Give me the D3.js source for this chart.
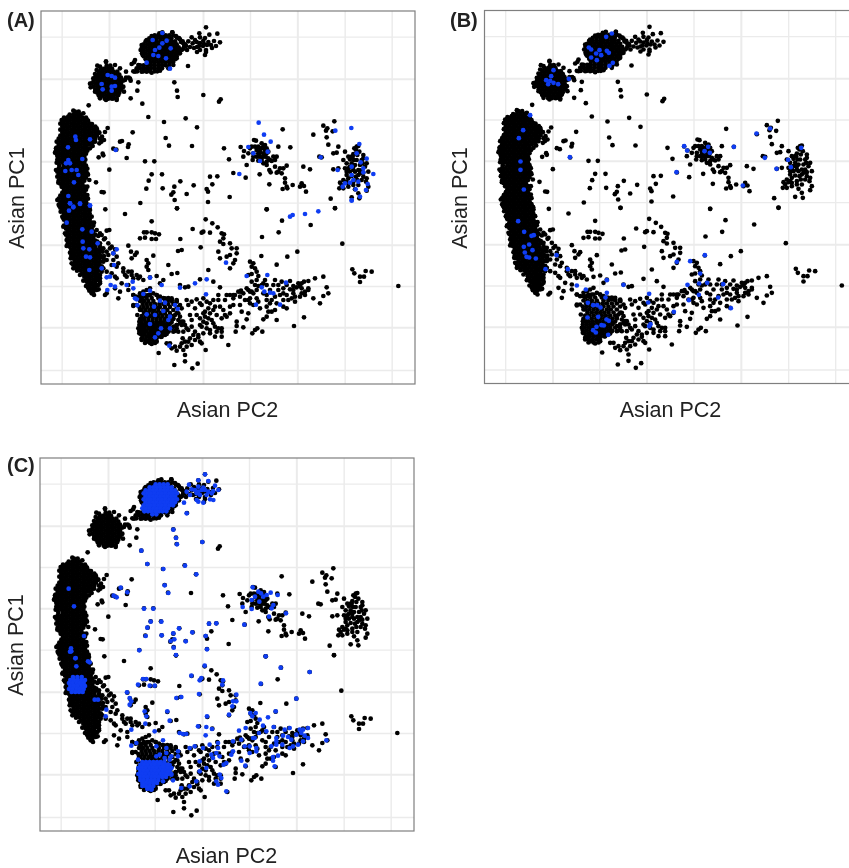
<!DOCTYPE html>
<html><head><meta charset="utf-8">
<script src="https://cdnjs.cloudflare.com/ajax/libs/d3/7.8.5/d3.min.js"></script>
<style>html,body{margin:0;background:#fff}svg{display:block;filter:blur(.3px)}text{font-family:"Liberation Sans",Arial,sans-serif;fill:#222}</style>
</head><body><svg id="c" width="849" height="868"></svg>
<script>
// Values are read off the picture, in arbitrary PC units (the axes carry no numbers).
const panelLabels=["(A)","(B)","(C)"];
const xTitle="Asian PC2", yTitle="Asian PC1";
const gridX=[185,327,467,609,750,892,1034,1175];
const gridY=[110,236,360,484,608,734,858,982,1110];
const strongX=[327,609,892], strongY=[236,484,734,982];

// samples overplotted in the long western band: [PC1, PC2, PC2, ...] by row
const westBand=[[335,225,236],[344,209,220,231,242],[353,192,203,214,225,236,247,258],[362,187,198,209,220,231,242,253,264],[371,181,192,203,214,225,236,247,258,269],[380,187,198,209,220,231,242,253,264,275,286],[389,181,192,203,214,225,236,247,258,269,280,291],[398,187,198,209,220,231,242,253,264,275,286,297],[407,181,192,203,214,225,236,247,258,269,280,291],[416,176,187,198,209,220,231,242,253,264,275,286,300],[425,170,181,192,203,214,225,236,247,258,269,280,304],[434,176,187,198,209,220,231,242,253,264,275],[443,170,181,192,203,214,225,236,247,258],[452,168,176,187,198,209,220,231,242,253,262],[461,170,181,192,203,214,225,236,247,258],[470,176,187,198,209,220,231,242,253],[479,172,181,192,203,214,225,236,247,256],[488,176,187,198,209,220,231,242,253],[497,178,192,203,214,225,236,247,258],[506,176,187,198,209,220,231,242,253,262],[515,172,181,192,203,214,225,236,247,258],[524,176,187,198,209,220,231,242,253,264],[533,181,192,203,214,225,236,247,258],[542,176,187,198,209,220,231,242,253],[551,181,192,203,214,225,236,247],[560,187,198,209,220,231,242,253],[569,192,203,214,225,236,247,258],[578,187,198,209,220,231,242,253],[587,181,192,203,214,225,236,247,258],[596,176,187,198,209,220,231,242,253,264],[605,181,192,203,214,225,236,247,258],[614,176,187,198,209,220,231,242,253,264],[623,181,192,203,214,225,236,247,258,269],[632,187,198,209,220,231,242,253,264],[641,192,203,214,225,236,247,258,269],[650,187,198,209,220,231,242,253,264],[659,192,203,214,225,236,247,258,269],[668,198,209,220,231,242,253,264,275],[677,192,203,214,225,236,247,258,269,280],[686,198,209,220,231,242,253,264,275],[695,203,214,225,236,247,258,269,280],[704,198,209,220,231,242,253,264,275,286],[713,203,214,225,236,247,258,269,280],[722,209,220,231,242,253,264,275,286],[731,203,214,225,236,247,258,269,280,291],[740,209,220,231,242,253,264,275,286],[749,214,225,236,247,258,269,280,291,302],[758,220,231,242,253,264,275,286,297],[767,214,225,236,247,258,269,280,291,302],[776,220,231,242,253,264,275,286,297],[785,225,236,247,258,269,280,291,302],[794,220,231,242,253,264,275,286,297],[803,225,236,247,258,269,280,291,302],[812,231,242,253,264,275,286,297],[821,247,258,269,280,291],[830,253,264,275,286,297],[839,258,269,280,291],[848,264,275,286],[857,269,280,291],[866,275,286],[875,280]];
const westFringe=[220,332,250,340,205,350,185,360,260,358,276,372,290,385,298,398,306,410,312,420,298,430,285,425,278,438,270,445,168,445,165,458,172,468,170,488,168,510,172,530,175,548,185,560,262,520,268,540,262,560,262,585,172,600,178,618,182,635,270,630,275,650,190,655,282,668,190,680,195,700,290,690,295,708,200,720,292,725,200,738,300,740,210,758,308,755,212,775,312,768,215,790,310,785,220,805,305,800,240,825,305,815,250,842,300,835,258,858,300,850,268,872,296,868,282,885];
const nwCluster=[[184,318],[197,292,320,331],[206,303,314,325,336],[215,297,308,319,330,341,352],[224,292,303,314,325,336,347,358],[233,286,297,308,319,330,341,352,363,378,386],[242,281,292,303,314,325,336,347,358,369,392],[251,270,286,297,308,319,330,341,352,363],[260,281,292,303,314,325,336,347,358,370],[269,286,297,308,319,330,341,352,363],[278,292,303,314,325,336,347,358],[287,297,308,319,330,341,352],[296,314,325,336,350]];
const nwFringe=[275,250,272,262,280,235,285,222,290,210,300,200,318,186,345,195,360,205,378,215,375,240,390,236,368,262,372,275,355,285,350,300,340,295,318,300,300,295,285,275,296,285];
const northCluster=[[97,487,517],[106,464,475,486,497,508,520],[115,448,459,470,481,492,503,514,535],[124,437,448,459,470,481,492,503,514,525,548],[133,431,442,453,464,475,486,497,508,519,530,556],[142,426,437,448,459,470,481,492,503,514,525,536],[151,431,442,453,464,475,486,497,508,519,530,540],[160,426,437,448,459,470,481,492,503,514,525,536],[169,431,442,453,464,475,486,497,508,519,530],[178,437,448,459,470,481,492,503,514,525],[187,442,453,464,475,486,497,508,519,402],[196,420,431,442,453,464,475,486,497,508],[205,410,420,431,442,453,464,475,486],[214,400,412,430,450,464,472]];
const northFringe=[425,135,422,150,428,165,440,120,455,108,478,100,517,97,530,112,540,118,553,135,545,150,540,160,530,175,520,195,505,205,480,212,455,218,440,215,425,215,405,180,395,192,415,195,405,215,432,205];
const southCluster=[[885,435,450,470],[894,425,440,455,475,490,505],[903,420,432,445,460,480,495,515,530],[912,428,440,452,465,478,490,505,520],[921,418,430,442,455,468,480,495,510,530],[930,425,437,450,462,475,490,502,520],[939,432,445,458,470,482,495,510,530],[948,425,437,450,462,475,487,500,515],[957,420,432,445,458,470,482,495,507,520],[966,425,436,447,458,469,480,491,502,515],[975,418,429,440,451,462,473,484,495,506,530,545],[984,423,434,445,456,467,478,489,500,515],[993,418,429,440,451,462,473,484,495,506,525],[1002,423,434,445,456,467,478,489,500],[1011,428,439,450,461,472,483],[1020,425,436,447,458,469],[1029,435,450,465]];
const southFringe=[400,285,410,290,420,280,430,275,440,270,450,265,430,290,445,285,460,280,470,285,480,290,495,295,505,300,515,300,530,305,540,315,545,325,535,340,525,345,520,355,535,360,545,365,555,375,530,385,520,380,505,395,495,405,485,410,470,425,455,432,440,425,425,415,418,400,415,385,418,365,412,345,420,330,410,315,400,318];
const eastSmallCluster=[618,82,598,100,652,101,628,104,575,112,600,112,615,114,585,120,565,124,578,130,590,126,610,122,625,126,642,123,660,127,597,138,609,138,621,135,633,135,582,144,600,150,618,150,636,144,648,138,591,156,615,165,618,156,570,141,558,138,549,129,549,147,561,150,600,129,612,132,591,141,528,108,537,114,543,126,552,141,525,147,534,159,564,198];
const midScatter=[523,247,531,272,533,291,415,247,412,272,392,295,427,311,610,285,657,305,662,298,266,316,445,351,557,355,492,366,591,382,398,397,323,384,315,396,497,414,366,423,360,425,386,433,384,441,507,437,576,438,349,449,340,446,308,461,310,466,296,472,380,474,435,484,463,484,328,509,455,523,486,523,630,530,652,529,446,542,541,544,637,553,288,547,439,566,488,565,523,560,581,556,620,567,624,575,305,576,311,577,520,577,514,584,560,582,524,600,689,591,421,609,624,606,531,625,316,628,800,628,1005,625];
const midEastCluster=[848,388,762,420,768,422,722,441,672,445,871,442,835,440,732,453,750,445,760,460,770,450,775,440,785,430,790,440,800,445,805,455,780,455,790,460,797,470,785,480,775,482,758,480,730,470,740,495,687,478,820,470,825,480,815,483,790,490,800,495,808,510,812,517,850,505,860,497,835,515,845,520,830,518,855,535,855,548,860,560,848,567,862,565,878,555,905,550,912,558,918,575,900,560,910,500,930,508,808,553,779,523,700,519,737,533,780,445,795,450,765,440,778,465,800,460,775,460,785,445,795,435,770,470,760,470,745,460,755,440,810,480,830,470,825,500,840,505,790,470,805,475,800,485,780,470];
const farEastCluster=[1003,364,970,377,982,385,978,392,998,394,940,404,980,412,985,434,1015,440,1000,460,1010,458,1035,455,958,470,965,472,1030,480,1000,508,992,596,1075,438,1068,450,1060,462,1072,465,1090,475,1050,478,1062,480,1040,490,1055,490,1070,480,1080,495,1045,505,1060,500,1075,510,1088,490,1040,515,1050,515,1065,515,1080,520,1090,530,1055,528,1068,530,1045,535,1035,548,1020,548,1025,555,1045,550,1060,545,1072,540,1085,540,1100,535,1018,565,1030,565,1075,580,1078,595,1045,470,1055,470,1078,455,1090,465,1100,490,1095,500,1105,515,1085,510,1065,495,1050,500,1035,505,1040,525,1060,510,1075,525,1090,518,1098,545,1045,560,1060,555,1075,555,1030,540,1058,470,1085,480,1070,440,1063,445,1015,505,1105,560,1040,545,1100,572,1065,568,1055,592];
const lowerScatter=[375,42,531,25,800,28,1005,24,455,64,617,58,637,70,846,62,932,75,578,87,653,82,605,98,610,95,630,98,836,97,786,111,440,97,432,97,455,97,465,100,477,103,420,115,435,113,455,117,468,117,541,117,665,100,672,103,670,115,660,125,690,130,670,132,710,145,695,145,655,155,690,165,710,160,680,170,660,175,705,180,700,190,690,205,602,142,545,150,534,153,385,137,393,155,410,158,405,165,395,175,460,167,1027,131,892,155,862,170,784,168,440,180,445,190,440,200,445,210,505,195,830,194,750,185,760,190,755,200,765,205,770,215,755,222,745,225,775,228,625,210,515,222,532,219,1057,208,1063,220,1080,230,1092,230,1097,213,1115,215,1080,246,1195,258,320,92,328,90,305,105,315,115,300,130,310,145,330,145,320,155,340,160,350,170,320,180,335,195,350,200,370,205,385,215,375,225,395,225,410,225,415,235,430,240,450,232,470,228,490,240,480,250,350,235,365,250,385,255,345,265,360,275,320,280,315,285,355,295,385,270,400,285,420,290,400,315,310,175,305,200,300,225,290,240,295,255,280,265,275,280,600,238,640,245,540,255,555,262,565,260,660,262,715,275,723,272,745,270,755,275,765,255,775,258,790,250,800,255,825,240,835,255,845,245,870,243,925,243,945,235,970,230,905,250,912,245,900,258,905,265,890,262,880,270,870,268,925,270,980,262,985,280,970,288,940,295,960,310,915,285,900,290,880,280,875,295,885,305,860,285,835,270,840,285,825,290,815,300,800,285,790,280,770,270,760,280,750,275,745,300,735,300,770,295,775,305,750,310,722,275,705,285,690,285,680,285,655,285,655,300,700,295,610,295,590,298,575,305,565,315,530,300,515,295,630,310,645,320,660,320,670,330,640,330,625,325,605,315,700,315,690,320,680,350,690,340,725,335,745,340,800,320,830,310,825,330,815,335,800,350,790,358,830,360,860,325,740,358,710,365,710,378,730,382,707,395,757,400,765,390,772,385,787,395,882,378,912,352,610,340,600,355,615,350,625,355,635,360,610,365,620,370,640,370,655,385,665,385,650,395,665,410,645,410,630,400,610,400,595,405,580,405,570,415,585,420,600,425,620,385,630,390,575,380,565,390,550,365,540,370,530,375,510,370,520,395,535,395,550,395,548,415,555,425,545,430,560,440,575,435,510,430,515,445,530,452,550,450,555,465,476,459,617,450,685,435,523,495,555,484,593,491,577,505];
const lowerExtras=[300,100,312,118,325,130,335,140,345,148,302,170,325,165,340,180,355,190,310,205,320,215,335,220,345,230,370,215,380,230,395,215,400,235,420,230,300,245,285,255,270,250,260,245,265,265,290,270,560,300,600,310,620,305,640,300,675,300,720,290,730,280,740,265,755,245,770,240,785,255,795,240,810,270,820,255,850,265,860,255,850,300,850,320,805,335,780,325,760,315,750,295,700,285,720,315,675,345,665,355,650,345,630,340,615,335,590,345,605,380,645,380,665,395,585,395,595,412,605,430,565,425,540,440,525,440,500,430,560,385,575,360,600,375,540,350,570,345,585,325,880,258,895,250,915,275,905,280,925,265,885,290,865,300,850,280,800,300,810,310];

// highlighted samples, panel A
const blueAUpper=[487,99,458,120,500,122,487,130,478,143,512,145,465,150,460,165,475,168,498,175,440,188,510,206,323,225,335,228,345,233,305,252,308,268,335,260,345,258,335,272,226,410,228,420,270,418,204,442,205,480,198,490,210,490,247,477,196,513,215,510,230,510,235,525,222,547,205,588,210,610,270,617,220,620,240,610,776,368,792,404,812,425,745,441,760,460,803,455,780,483,718,522,347,450,1006,392,1054,384,1078,432,962,472,1070,460,1100,476,1082,487,1055,500,1013,510,1090,505,1120,522,1090,517,1055,525,1060,540,1075,545,1050,548,1035,550,1028,560,1103,552,1067,568,1098,570,1055,600,1080,590];
const blueALower=[955,34,915,42,878,45,870,50,1055,2,270,16,240,12,210,10,220,22,207,32,200,68,247,88,275,95,293,130,248,125,250,145,268,148,258,170,270,172,340,160,350,148,305,205,268,210,342,195,320,232,330,230,332,255,345,260,322,270,380,255,398,245,400,265,450,233,485,255,540,263,585,250,620,238,618,283,405,295,410,298,412,316,450,272,430,282,480,302,495,308,525,315,533,327,462,320,465,345,440,343,490,333,510,350,505,360,450,372,483,385,510,385,475,400,465,412,508,437,678,188,740,228,802,225,785,262,793,275,810,278,820,280,858,248,768,314,840,314];
// highlighted samples, panel B
const blueBUpper=[507,100,490,110,438,142,445,148,470,150,492,152,498,158,460,160,475,165,445,172,462,180,510,188,500,197,332,210,325,228,310,240,322,242,316,252,332,248,346,252,378,236,262,345,241,390,228,414,233,484,233,509,243,568,381,471,724,438,733,451,796,440,785,453,801,458,701,516,873,440,941,400,982,385,1075,443,966,473,1036,479,1044,501,1001,506,900,556];
const blueBLower=[225,63,243,95,265,107,272,105,242,140,258,133,245,157,250,170,268,150,258,172,278,175,340,165,307,207,374,207,401,256,428,268,491,240,491,278,487,292,541,254,434,308,450,315,462,315,472,322,433,352,465,350,490,358,497,362,475,375,460,380,450,390,458,397,482,376,495,404,618,281,615,307,622,372,618,378,692,335,701,185,741,183,785,165,771,220,733,254,768,250,792,248,840,252,767,284,737,300,825,292,863,324];
// highlighted samples, panel C
const blueCNorth=[[112,470,482,494,506],[121,452,463,474,485,496,507,518],[130,440,451,462,473,484,495,506,517,528],[139,434,445,456,467,478,489,500,511,522,534],[148,440,451,462,473,484,495,506,517,528],[157,434,445,456,467,478,489,500,511,522,534],[166,440,451,462,473,484,495,506,517,528],[175,434,445,456,467,478,489,500,511,522],[184,430,441,452,463,474,485,496,507],[193,436,447,458,469,480,491,502],[202,460,472]];
const blueCSouth=[[945,430,441,452,463,474,485,496],[954,424,435,446,457,468,479,490,501,512],[963,418,429,440,451,462,473,484,495,506,517],[972,424,435,446,457,468,479,490,501,512],[981,418,429,440,451,462,473,484,495,506,517],[990,424,435,446,457,468,479,490,501],[999,424,434,445,456,467,478],[1008,430,441,452,463,474],[1017,430,441,452,463],[1026,445,458]];
const blueCWest=[[690,222,235,248],[699,214,225,236,247,258],[708,210,221,232,243,254],[717,214,225,236,247,258],[726,210,221,232,243,254],[735,218,229,240,251]];
const blueCUpper=[615,73,595,91,625,93,645,107,567,104,575,118,595,110,610,113,585,120,595,125,605,120,615,120,625,125,640,123,655,120,560,125,570,135,590,130,600,135,620,135,635,130,590,150,610,158,595,155,630,148,640,150,552,158,560,190,520,239,528,264,531,283,607,276,424,302,442,342,555,347,490,357,589,373,494,406,505,429,362,413,382,427,341,437,350,442,432,476,460,476,452,515,484,515,627,521,649,520,442,533,437,558,485,556,520,550,537,535,577,547,617,558,512,573,523,568,557,574,521,593,418,601,621,598,528,615,797,619,758,412,765,440,775,425,783,430,800,435,790,440,812,428,833,435,755,450,778,455,728,471,755,477,820,465,815,475,858,490,807,500,733,524,252,558,206,416,222,469,213,595,210,605,226,625];
const blueCLower=[615,48,575,78,605,85,600,92,670,92,668,105,598,133,545,142,530,145,710,135,710,155,700,155,698,170,688,195,783,102,843,54,930,67,890,147,828,185,415,105,430,88,440,88,450,108,465,108,382,128,390,145,395,155,390,165,435,185,440,200,437,222,503,185,510,213,622,200,595,230,620,232,637,238,550,253,560,253,618,257,610,295,570,295,585,290,465,245,395,240,490,272,540,250,718,243,738,235,725,270,700,275,655,280,630,285,655,295,650,310,635,315,660,320,640,325,672,345,680,340,700,305,695,315,725,333,735,290,750,290,750,310,770,295,770,305,737,348,760,265,765,265,778,250,790,228,800,245,805,203,780,210,768,190,752,190,758,200,822,232,855,240,870,235,850,258,830,265,830,275,815,290,830,285,848,285,835,318,820,322,820,333,825,350,870,295,880,290,865,262,875,270,890,255,900,240,910,240,905,250,915,258,925,235,925,265,910,275,895,285,980,272,680,425,660,375,665,385,650,395,655,405,600,335,620,355,600,365,590,395,570,410,545,415,520,392,415,330,395,288,410,280,470,290,500,295,535,305,535,320,515,320,480,340,490,350,295,150,285,150,320,180,318,200,270,38,265,35,230,50,215,5,228,25,500,310,510,330,495,325,470,320,480,315,505,345,515,355,505,365,500,375,515,375,490,395,440,410,455,420,445,415,430,405];

const fromRows=rows=>rows.flatMap(r=>r.slice(1).map(x=>[x,r[0]]));
const fromFlat=(a,dx=0,dy=0)=>d3.range(0,a.length-1,2).map(i=>[a[i]+dx,a[i+1]+dy]);

const allSamples=[...fromRows(westBand),...fromFlat(westFringe),...fromRows(nwCluster),...fromFlat(nwFringe),...fromRows(northCluster),...fromFlat(northFringe),...fromRows(southCluster),...fromFlat(southFringe,0,600),
  ...fromFlat(eastSmallCluster),...fromFlat(midScatter),...fromFlat(midEastCluster),...fromFlat(farEastCluster),...fromFlat(lowerScatter,0,600),...fromFlat(lowerExtras,0,600)];
const blueA=[...fromFlat(blueAUpper),...fromFlat(blueALower,0,600)];
const blueB=[...fromFlat(blueBUpper,-2,2),...fromFlat(blueBLower,-1,602)];
const blueC=[...fromRows(blueCNorth),...fromRows(blueCSouth),...fromRows(blueCWest),...fromFlat(blueCUpper,3,9),...fromFlat(blueCLower,2,608)];

const panels=[
 {label:panelLabels[0],x0:41,y0:11,lx:7,ly:27,tx:227.5,ty:417,yx:24,yy:198,blue:blueA},
 {label:panelLabels[1],x0:484.5,y0:10.5,lx:450,ly:27,tx:670.5,ty:417,yx:467,yy:198,blue:blueB},
 {label:panelLabels[2],x0:40,y0:458,lx:7,ly:472,tx:226.5,ty:863,yx:23,yy:645,blue:blueC}
];
const W=374,H=373,R=2.35;
const svg=d3.select("#c");
panels.forEach(p=>{
  const g=svg.append("g").attr("transform",`translate(${p.x0},${p.y0})`);
  const x=d3.scaleLinear().domain([123,1245]).range([0,W]);
  const y=d3.scaleLinear().domain([33,1152]).range([0,H]);
  const gx=g.append("g").attr("transform",`translate(0,${H})`).call(d3.axisBottom(x).tickValues(gridX).tickSize(H).tickFormat(""));
  gx.selectAll("line").attr("transform",`translate(0,${-H})`);
  const gy=g.append("g").call(d3.axisLeft(y).tickValues(gridY).tickSize(-W).tickFormat(""));
  g.selectAll(".domain").remove();
  gx.selectAll(".tick line").attr("stroke","#ebebeb").attr("stroke-width",d=>strongX.includes(d)?2:1.4);
  gy.selectAll(".tick line").attr("stroke","#ebebeb").attr("stroke-width",d=>strongY.includes(d)?2:1.4);
  g.append("g").selectAll("circle").data(allSamples).join("circle").attr("cx",d=>x(d[0])).attr("cy",d=>y(d[1])).attr("r",R).attr("fill","#000");
  g.append("g").selectAll("circle").data(p.blue).join("circle").attr("cx",d=>x(d[0])).attr("cy",d=>y(d[1])).attr("r",R).attr("fill","#0f3df2");
  g.append("rect").attr("width",W).attr("height",H).attr("fill","none").attr("stroke","#7f7f7f").attr("stroke-width",1.2);
  svg.append("text").attr("x",p.lx).attr("y",p.ly).attr("font-size",20).attr("font-weight","bold").text(p.label);
  svg.append("text").attr("x",p.tx).attr("y",p.ty).attr("font-size",21.5).attr("text-anchor","middle").text(xTitle);
  svg.append("text").attr("transform",`translate(${p.yx},${p.yy}) rotate(-90)`).attr("font-size",21.5).attr("text-anchor","middle").text(yTitle);
});
</script></body></html>
